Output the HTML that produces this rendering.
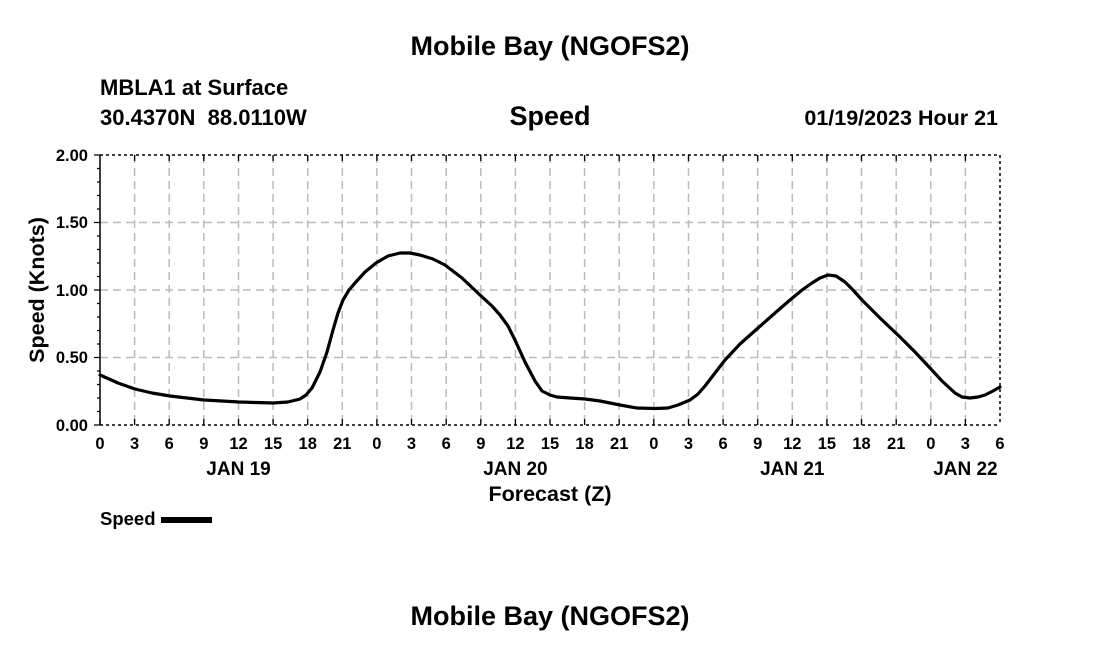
<!DOCTYPE html>
<html><head><style>body{margin:0;background:#fff}</style></head><body>
<svg width="1100" height="650" xmlns="http://www.w3.org/2000/svg" font-family="Liberation Sans, Arial, sans-serif" font-weight="bold">
<rect width="1100" height="650" fill="#fff"/>
<text x="550" y="55" font-size="27" text-anchor="middle">Mobile Bay (NGOFS2)</text>
<text x="550" y="625" font-size="27" text-anchor="middle">Mobile Bay (NGOFS2)</text>
<text x="100" y="95" font-size="22">MBLA1 at Surface</text>
<text x="100" y="125" font-size="22" xml:space="preserve">30.4370N  88.0110W</text>
<text x="550" y="125" font-size="27" text-anchor="middle">Speed</text>
<text x="998" y="125" font-size="21.5" text-anchor="end">01/19/2023 Hour 21</text>
<g stroke="#bbb" stroke-width="1.5" stroke-dasharray="8,5">
<line x1="100" y1="222.5" x2="1000" y2="222.5"/><line x1="100" y1="290" x2="1000" y2="290"/><line x1="100" y1="357.5" x2="1000" y2="357.5"/>
<line x1="134.6" y1="155" x2="134.6" y2="425"/><line x1="169.2" y1="155" x2="169.2" y2="425"/><line x1="203.8" y1="155" x2="203.8" y2="425"/><line x1="238.5" y1="155" x2="238.5" y2="425"/><line x1="273.1" y1="155" x2="273.1" y2="425"/><line x1="307.7" y1="155" x2="307.7" y2="425"/><line x1="342.3" y1="155" x2="342.3" y2="425"/><line x1="376.9" y1="155" x2="376.9" y2="425"/><line x1="411.5" y1="155" x2="411.5" y2="425"/><line x1="446.2" y1="155" x2="446.2" y2="425"/><line x1="480.8" y1="155" x2="480.8" y2="425"/><line x1="515.4" y1="155" x2="515.4" y2="425"/><line x1="550" y1="155" x2="550" y2="425"/><line x1="584.6" y1="155" x2="584.6" y2="425"/><line x1="619.2" y1="155" x2="619.2" y2="425"/><line x1="653.8" y1="155" x2="653.8" y2="425"/><line x1="688.5" y1="155" x2="688.5" y2="425"/><line x1="723.1" y1="155" x2="723.1" y2="425"/><line x1="757.7" y1="155" x2="757.7" y2="425"/><line x1="792.3" y1="155" x2="792.3" y2="425"/><line x1="826.9" y1="155" x2="826.9" y2="425"/><line x1="861.5" y1="155" x2="861.5" y2="425"/><line x1="896.2" y1="155" x2="896.2" y2="425"/><line x1="930.8" y1="155" x2="930.8" y2="425"/><line x1="965.4" y1="155" x2="965.4" y2="425"/>
</g>
<g stroke="#000" stroke-width="1.5">
<line x1="100" y1="155" x2="1000" y2="155" stroke-dasharray="3,3"/>
<line x1="100" y1="425" x2="1000" y2="425" stroke-dasharray="3,3"/>
<line x1="1000" y1="155" x2="1000" y2="425" stroke-dasharray="3,3"/>
<line x1="100" y1="155" x2="100" y2="425"/>
</g>
<g stroke="#000" stroke-width="1.3">
<path d="M94 155h6M94 222.5h6M94 290h6M94 357.5h6M94 425h6"/>
<path d="M97 168.5h3M97 182h3M97 195.5h3M97 209h3M97 236h3M97 249.5h3M97 263h3M97 276.5h3M97 303.5h3M97 317h3M97 330.5h3M97 344h3M97 371h3M97 384.5h3M97 398h3M97 411.5h3"/>
<path d="M100 425v-6M134.6 425v-6M169.2 425v-6M203.8 425v-6M238.5 425v-6M273.1 425v-6M307.7 425v-6M342.3 425v-6M376.9 425v-6M411.5 425v-6M446.2 425v-6M480.8 425v-6M515.4 425v-6M550 425v-6M584.6 425v-6M619.2 425v-6M653.8 425v-6M688.5 425v-6M723.1 425v-6M757.7 425v-6M792.3 425v-6M826.9 425v-6M861.5 425v-6M896.2 425v-6M930.8 425v-6M965.4 425v-6"/>
<path d="M134.6 155v6M169.2 155v6M203.8 155v6M238.5 155v6M273.1 155v6M307.7 155v6M342.3 155v6M376.9 155v6M411.5 155v6M446.2 155v6M480.8 155v6M515.4 155v6M550 155v6M584.6 155v6M619.2 155v6M653.8 155v6M688.5 155v6M723.1 155v6M757.7 155v6M792.3 155v6M826.9 155v6M861.5 155v6M896.2 155v6M930.8 155v6M965.4 155v6"/>
</g>
<g font-size="16.5" text-anchor="end">
<text x="88" y="161">2.00</text><text x="88" y="228">1.50</text><text x="88" y="296">1.00</text><text x="88" y="363">0.50</text><text x="88" y="431">0.00</text>
</g>
<g font-size="16.5" text-anchor="middle">
<text x="100" y="449">0</text><text x="134.6" y="449">3</text><text x="169.2" y="449">6</text><text x="203.8" y="449">9</text><text x="238.5" y="449">12</text><text x="273.1" y="449">15</text><text x="307.7" y="449">18</text><text x="342.3" y="449">21</text>
<text x="376.9" y="449">0</text><text x="411.5" y="449">3</text><text x="446.2" y="449">6</text><text x="480.8" y="449">9</text><text x="515.4" y="449">12</text><text x="550" y="449">15</text><text x="584.6" y="449">18</text><text x="619.2" y="449">21</text>
<text x="653.8" y="449">0</text><text x="688.5" y="449">3</text><text x="723.1" y="449">6</text><text x="757.7" y="449">9</text><text x="792.3" y="449">12</text><text x="826.9" y="449">15</text><text x="861.5" y="449">18</text><text x="896.2" y="449">21</text>
<text x="930.8" y="449">0</text><text x="965.4" y="449">3</text><text x="1000" y="449">6</text>
<text x="238.5" y="475" font-size="19">JAN 19</text><text x="515.4" y="475" font-size="19">JAN 20</text><text x="792.3" y="475" font-size="19">JAN 21</text><text x="965.4" y="475" font-size="19">JAN 22</text>
<text x="550" y="501" font-size="21.5">Forecast (Z)</text>
</g>
<text transform="translate(44,290) rotate(-90)" font-size="21.5" text-anchor="middle">Speed (Knots)</text>
<polyline fill="none" stroke="#000" stroke-width="3.2" stroke-linejoin="round" stroke-linecap="round" points="100,375 118,383 135,389 152,393 170,396 187,398 204,400 222,401 239,402 256,402.5 273,403 288,402 300,399 306,395 312,388 320,372 327,352 333,330 338,313 343,300 349,290 355,283 365,272 376,263 388,256 400,253 410,253 420,255 433,259 445,265 462,278 480,295 492,306 500,315 508,326 515,340 525,362 535,381 542,391 550,395 557,397 570,398 585,399 600,401 620,405 637,408 655,408.5 668,408 678,405 690,400 698,394 705,386 715,373 725,360 740,344 758,328 775,313 790,300 802,290 812,283 820,278 828,275 836,276 845,282 853,290 862,300 880,318 900,337 915,352 930,368 942,381 955,393 962,397 970,398 978,397 985,395 993,391 1000,387"/>
<text x="100" y="525" font-size="18.5">Speed</text>
<line x1="161" y1="520" x2="212" y2="520" stroke="#000" stroke-width="6"/>
</svg>
</body></html>
